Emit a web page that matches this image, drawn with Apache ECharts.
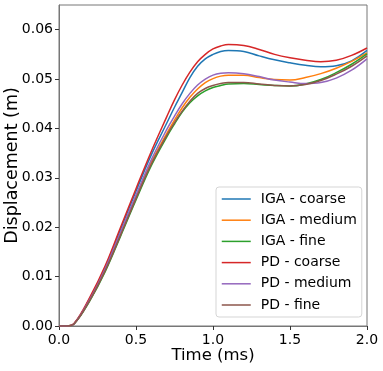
<!doctype html>
<html>
<head>
<meta charset="UTF-8">
<title>Displacement</title>
<script src="https://cdn.jsdelivr.net/npm/echarts@6/dist/echarts.min.js"></script>
<style>
  html, body { margin: 0; padding: 0; background: #fff; }
  #chart { width: 383px; height: 371px; }
</style>
</head>
<body>
<div id="chart"></div>
<script>
var time = [0, 0.05, 0.1, 0.2, 0.3, 0.4, 0.5, 0.6,
            0.7, 0.75, 0.8, 0.85, 0.9, 0.95, 1.0, 1.05, 1.1,
            1.2, 1.3, 1.4, 1.5, 1.6, 1.7, 1.8, 1.9, 2.0];

var igaCoarse = [0, 0, 0.0005, 0.0056, 0.0119, 0.0196, 0.0273, 0.0347,
                 0.0411, 0.0443, 0.0473, 0.0503, 0.0526, 0.0541, 0.0550, 0.0556, 0.0558,
                 0.0556, 0.0547, 0.0539, 0.0533, 0.0528, 0.0525, 0.0527, 0.0537, 0.0558];
var igaMedium = [0, 0, 0.0005, 0.0053, 0.0114, 0.0187, 0.0261, 0.0332,
                 0.0390, 0.0417, 0.0442, 0.0463, 0.0480, 0.0493, 0.0501, 0.0506, 0.0508,
                 0.0508, 0.0503, 0.0499, 0.0498, 0.0503, 0.0511, 0.0522, 0.0536, 0.0553];
var igaFine   = [0, 0, 0.0005, 0.0051, 0.0110, 0.0182, 0.0255, 0.0325,
                 0.0383, 0.0409, 0.0433, 0.0452, 0.0466, 0.0476, 0.0483, 0.0487, 0.0490,
                 0.0491, 0.0489, 0.0487, 0.0486, 0.0490, 0.0499, 0.0513, 0.0530, 0.0551];
var pdCoarse  = [0, 0, 0.0006, 0.0058, 0.0122, 0.0200, 0.0278, 0.0354,
                 0.0424, 0.0458, 0.0488, 0.0514, 0.0535, 0.0550, 0.0561, 0.0567, 0.0570,
                 0.0568, 0.0560, 0.0550, 0.0543, 0.0538, 0.0535, 0.0538, 0.0548, 0.0563];
var pdMedium  = [0, 0, 0.0005, 0.0054, 0.0116, 0.0190, 0.0265, 0.0337,
                 0.0398, 0.0425, 0.0450, 0.0471, 0.0488, 0.0500, 0.0508, 0.0512, 0.0513,
                 0.0511, 0.0505, 0.0498, 0.0494, 0.0491, 0.0493, 0.0502, 0.0518, 0.0541];
var pdFine    = [0, 0, 0.0005, 0.0052, 0.0112, 0.0184, 0.0258, 0.0328,
                 0.0386, 0.0412, 0.0435, 0.0455, 0.0471, 0.0481, 0.0487, 0.0491, 0.0493,
                 0.0493, 0.0490, 0.0487, 0.0486, 0.0489, 0.0497, 0.0510, 0.0526, 0.0547];

var names  = ['IGA - coarse', 'IGA - medium', 'IGA - fine', 'PD - coarse', 'PD - medium', 'PD - fine'];
var values = [igaCoarse, igaMedium, igaFine, pdCoarse, pdMedium, pdFine];
var colors = ['#1f77b4', '#ff7f0e', '#2ca02c', '#d62728', '#9467bd', '#8c564b'];

var font = 'DejaVu Sans';

function pairs(arr) {
  return time.map(function(t, i) { return [t, arr[i]]; });
}

var series = names.map(function(n, i) {
  return {
    name: n,
    type: 'line',
    data: pairs(values[i]),
    symbol: 'none',
    smooth: 0.4,
    lineStyle: { width: 1.5, color: colors[i] },
    itemStyle: { color: colors[i] }
  };
});

var chart = echarts.init(document.getElementById('chart'), null, { renderer: 'canvas' });
chart.setOption({
  animation: false,
  color: colors,
  grid: {
    left: 59, right: 16, top: 5, bottom: 45,
    outerBoundsMode: 'none',
    containLabel: false,
    show: true, borderColor: '#777', borderWidth: 1
  },
  xAxis: {
    type: 'value',
    min: 0, max: 2, interval: 0.5,
    name: 'Time (ms)',
    nameLocation: 'middle',
    nameGap: 21,
    nameMoveOverlap: false,
    nameTextStyle: { fontFamily: font, fontSize: 16.5, color: '#000' },
    axisLine: { show: true, lineStyle: { color: '#777', width: 1 } },
    axisTick: { show: true, inside: false, length: 4, lineStyle: { color: '#333' } },
    axisLabel: {
      fontFamily: font, fontSize: 14, color: '#000', margin: 7,
      formatter: function(v) { return v.toFixed(1); }
    },
    splitLine: { show: false }
  },
  yAxis: {
    type: 'value',
    min: 0, max: 0.065, interval: 0.01,
    name: 'Displacement (m)',
    nameLocation: 'middle',
    nameGap: 38,
    nameMoveOverlap: false,
    nameTextStyle: { fontFamily: font, fontSize: 17.5, color: '#000' },
    axisLine: { show: true, lineStyle: { color: '#777', width: 1 } },
    axisTick: { show: true, inside: false, length: 4, lineStyle: { color: '#333' } },
    axisLabel: {
      fontFamily: font, fontSize: 14, color: '#000', margin: 6, showMaxLabel: false,
      formatter: function(v) {
        return Math.abs(v * 100 - Math.round(v * 100)) < 1e-6 ? v.toFixed(2) : '';
      }
    },
    splitLine: { show: false }
  },
  legend: {
    orient: 'vertical',
    left: 216, top: 187,
    width: 144,
    itemWidth: 29, itemHeight: 14, itemGap: 7.2,
    padding: [5, 5, 5, 5],
    backgroundColor: 'rgba(255,255,255,0.8)',
    borderColor: '#d5d5d5', borderWidth: 1, borderRadius: 3,
    itemStyle: { opacity: 0 },
    lineStyle: { width: 1.5 },
    textStyle: { fontFamily: font, fontSize: 14, color: '#000', padding: [0, 0, 0, 5] },
    data: names
  },
  series: series
});
</script>
</body>
</html>
